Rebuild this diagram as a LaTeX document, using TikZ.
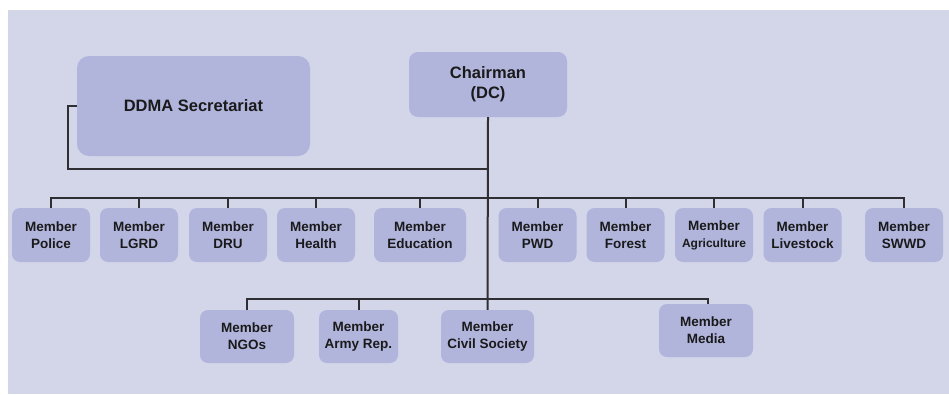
\documentclass[tikz,border=0pt]{standalone}
\usepackage{fontspec}
\setmainfont{Liberation Sans}
\begin{document}
\begin{tikzpicture}[x=1pt,y=-1pt,
  box/.style={fill=boxfill,draw=none,rounded corners=8pt,inner sep=0pt,align=center,
    text=txtcol,font=\bfseries\fontsize{13.5}{17}\selectfont},
  bigbox/.style={box,rounded corners=12pt,font=\bfseries\fontsize{16.5}{20}\selectfont},
  mem/.style={box,minimum width=78pt,minimum height=54pt},
  memb/.style={box,minimum width=94pt,minimum height=53pt},
  link/.style={draw=linecol,line width=2pt}]
\definecolor{bgfill}{HTML}{D3D5E9}
\definecolor{boxfill}{HTML}{B1B5DC}
\definecolor{txtcol}{HTML}{1A1A1A}
\definecolor{linecol}{HTML}{2E2E33}
\useasboundingbox (0,0) rectangle (949,394);
\fill[white] (0,0) rectangle (949,394);
\fill[bgfill] (8,10) rectangle (949,394);

\node[bigbox,minimum width=233pt,minimum height=100pt] (ddma) at (193.5,106) {DDMA Secretariat};
\node[bigbox,rounded corners=9pt,minimum width=158pt,minimum height=65pt] (chair) at (488,84.5) {Chairman\\(DC)};

\node[mem] (police) at (51,235) {Member\\Police};
\node[mem] (lgrd) at (139,235) {Member\\LGRD};
\node[mem] (dru) at (228,235) {Member\\DRU};
\node[mem] (health) at (316,235) {Member\\Health};
\node[mem,minimum width=92pt] (edu) at (420,235) {Member\\Education};
\node[mem] (pwd) at (537.5,235) {Member\\PWD};
\node[mem] (forest) at (625.5,235) {Member\\Forest};
\node[mem] (agri) at (714,235) {Member\\{\fontsize{12}{17}\selectfont Agriculture}};
\node[mem] (live) at (802.5,235) {Member\\Livestock};
\node[mem] (swwd) at (904,235) {Member\\SWWD};

\node[memb] (ngo) at (247,336.5) {Member\\NGOs};
\node[memb,minimum width=79pt] (army) at (358.5,336.5) {Member\\Army Rep.};
\node[memb,minimum width=93pt] (civil) at (487.5,336.5) {Member\\Civil Society};
\node[memb] (media) at (706,330.5) {Member\\Media};

\coordinate (j1) at (488,169);
\coordinate (tbus) at (488,198);
\coordinate (bbus) at (488,299);

% chairman trunk
\draw[link] (chair.south) -- (civil.north);
% secretariat link
\draw[link] (ddma.west) -- ++(-9,0) |- (j1);
% top bus
\draw[link] (police.north) |- (tbus) -| (swwd.north);
\foreach \n in {lgrd,dru,health,edu,pwd,forest,agri,live}
  \draw[link] (\n.north) -- (\n.north |- tbus);
% bottom bus
\draw[link] (ngo.north) |- (bbus) -| ([xshift=2pt]media.north);
\draw[link] (army.north) -- (army.north |- bbus);
\end{tikzpicture}
\end{document}
